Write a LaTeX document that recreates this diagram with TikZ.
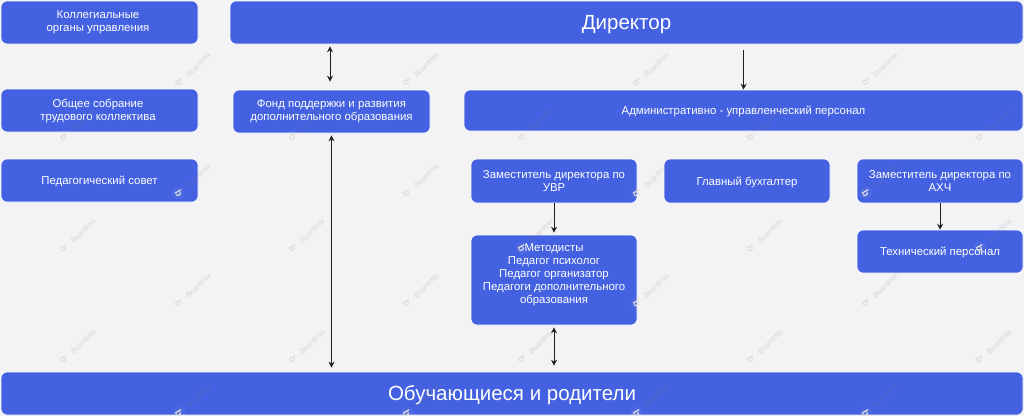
\documentclass[tikz,border=0pt]{standalone}
\usepackage{fontspec}
\setmainfont{Liberation Sans}
\usetikzlibrary{arrows.meta}
\definecolor{boxblue}{HTML}{4361E0}
\definecolor{pagebg}{HTML}{F3F3F6}
\definecolor{arrowink}{HTML}{1E1E1E}
\tikzset{
  box/.style={draw=white,line width=0.6pt,fill=boxblue,rounded corners=6pt,text=white,align=center,inner sep=0pt,font=\fontsize{11.4}{13}\selectfont,execute at begin node={\rule{0pt}{11pt}}},
  bigbox/.style={box,font=\fontsize{20.5}{24}\selectfont,execute at begin node={\rule{0pt}{17.5pt}}},
  oneway/.style={draw=arrowink,line width=0.9pt,-{Stealth[length=6pt,width=6pt]}},
  twoway/.style={draw=arrowink,line width=0.9pt,{Stealth[length=6pt,width=6pt]}-{Stealth[length=6pt,width=6pt]}},
  wmhalo/.style={circle,fill=white,fill opacity=0.05,minimum size=13pt,inner sep=0pt},
  wmicon/.style={rotate=-60,text=black!13,inner sep=0pt,font=\fontsize{10}{10}\selectfont\bfseries},
  wmtext/.style={rotate=45,anchor=west,text=gray,text opacity=0.25,inner sep=0pt,font=\fontsize{7.5}{8}\selectfont}
}
\begin{document}
\begin{tikzpicture}[x=1pt,y=-1pt]
\useasboundingbox (0,0) rectangle (1024,416);
\fill[pagebg] (0,0) rectangle (1024,416);
\node[box,minimum width=197,minimum height=43] (kollegial) at (99.5,22.5) {Коллегиальные\hspace*{3pt}\\органы управления\hspace*{3pt}};
\node[bigbox,minimum width=793,minimum height=43] (director) at (626.5,22.5) {Директор};
\node[box,minimum width=197,minimum height=43] (sobranie) at (99.5,110.5) {Общее собрание\hspace*{3pt}\\трудового коллектива\hspace*{3pt}};
\node[box,minimum width=197,minimum height=43] (fond) at (331.5,111.5) {Фонд поддержки и развития\\дополнительного образования};
\node[box,minimum width=559,minimum height=41] (admin) at (743.5,110.5) {Административно - управленческий персонал};
\node[box,minimum width=197,minimum height=43] (sovet) at (99.5,180.5) {Педагогический совет};
\node[box,minimum width=166,minimum height=44] (uvr) at (554,181) {Заместитель директора по\\УВР};
\node[box,minimum width=166,minimum height=44] (buh) at (747,181) {Главный бухгалтер};
\node[box,minimum width=166,minimum height=44] (ahch) at (940,181) {Заместитель директора по\\АХЧ};
\node[box,minimum width=166,minimum height=90] (metod) at (554,280) {Методисты\\Педагог психолог\\Педагог организатор\\Педагоги дополнительного\\образования\\~};
\node[box,minimum width=166,minimum height=43] (tech) at (940,251.5) {Технический персонал};
\node[bigbox,minimum width=1022,minimum height=43] (pupils) at (512,393.5) {Обучающиеся и родители};

\draw[twoway,shorten <=2pt,shorten >=8pt] (director.south -| fond.north) ++(-1.5,0) coordinate (dfa) -- (dfa |- fond.north);
\draw[oneway,shorten <=6pt] (director.south -| admin.north) -- (admin.north);
\draw[twoway,shorten <=2pt,shorten >=4pt] (fond.south) -- (fond.south |- pupils.north);
\draw[oneway,shorten >=2pt] (uvr.south) -- (metod.north);
\draw[oneway] (ahch.south) -- (tech.north);
\draw[twoway,shorten <=2pt,shorten >=6pt] (metod.south) -- (metod.south |- pupils.north);

\foreach \wy/\wxs in {82/{179,407,637,866},137/{64,293,522,751,980},193/{179,407,637,866},248/{64,293,522,751,980},303/{179,407,637,866},359/{64,293,522,751,980},413/{179,407,637,866}}{
  \foreach \wx in \wxs {
    \node[wmhalo] (wmh\wx x\wy) at (\wx,\wy) {};
    \node[wmicon] (wmi\wx x\wy) at (\wx,\wy) {b};
    \node[wmtext] (wmt\wx x\wy) at (\wx+8,\wy-6) {Boardmix};
  }
}
\end{tikzpicture}
\end{document}
